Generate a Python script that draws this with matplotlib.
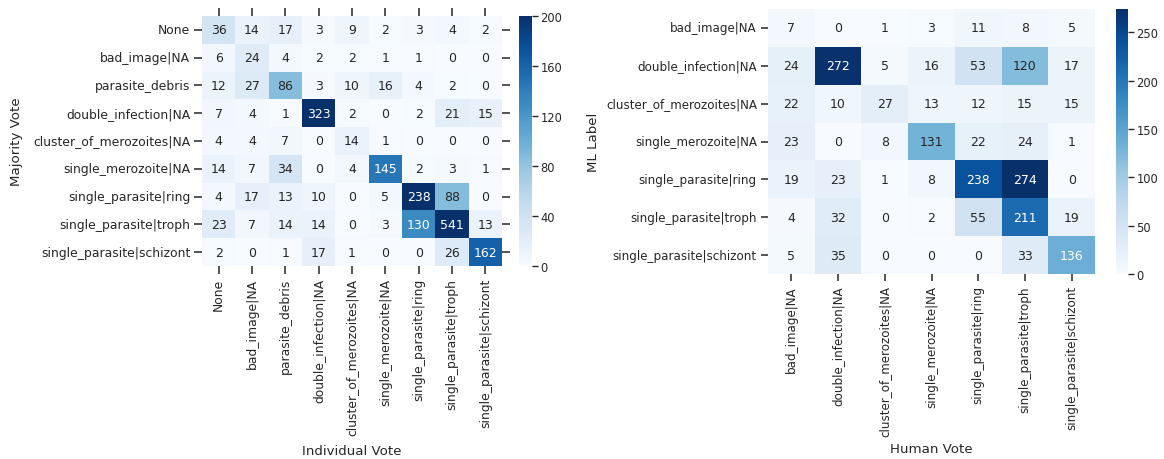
import numpy as np
import matplotlib
matplotlib.use("Agg")
import matplotlib.pyplot as plt
import seaborn as sns

# ---- data ----
left_labels = ["None", "bad_image|NA", "parasite_debris", "double_infection|NA",
               "cluster_of_merozoites|NA", "single_merozoite|NA",
               "single_parasite|ring", "single_parasite|troph",
               "single_parasite|schizont"]
left_values = [
    [36, 14, 17, 3, 9, 2, 3, 4, 2],
    [6, 24, 4, 2, 2, 1, 1, 0, 0],
    [12, 27, 86, 3, 10, 16, 4, 2, 0],
    [7, 4, 1, 323, 2, 0, 2, 21, 15],
    [4, 4, 7, 0, 14, 1, 0, 0, 0],
    [14, 7, 34, 0, 4, 145, 2, 3, 1],
    [4, 17, 13, 10, 0, 5, 238, 88, 0],
    [23, 7, 14, 14, 0, 3, 130, 541, 13],
    [2, 0, 1, 17, 1, 0, 0, 26, 162],
]
left_cbar_ticks = [0, 40, 80, 120, 160, 200]

right_labels = ["bad_image|NA", "double_infection|NA", "cluster_of_merozoites|NA",
                "single_merozoite|NA", "single_parasite|ring",
                "single_parasite|troph", "single_parasite|schizont"]
right_values = [
    [7, 0, 1, 3, 11, 8, 5],
    [24, 272, 5, 16, 53, 120, 17],
    [22, 10, 27, 13, 12, 15, 15],
    [23, 0, 8, 131, 22, 24, 1],
    [19, 23, 1, 8, 238, 274, 0],
    [4, 32, 0, 2, 55, 211, 19],
    [5, 35, 0, 0, 0, 33, 136],
]
right_cbar_ticks = [0, 50, 100, 150, 200, 250]

# ---- figure ----
W, H = 1164, 460
fig = plt.figure(figsize=(W / 100, H / 100), dpi=100)

def px_axes(x0, y0, x1, y1):
    return fig.add_axes([x0 / W, 1 - y1 / H, (x1 - x0) / W, (y1 - y0) / H])

TXT = "#262626"
lab_fs = 9.6
ann_fs = 9.0
cb_fs = 8.3

ax1 = px_axes(202, 17, 502, 267)
cax1 = px_axes(519, 17, 532, 267)
ax2 = px_axes(768, 10, 1095, 275)
cax2 = px_axes(1116, 10, 1128, 275)

sns.heatmap(np.array(left_values), ax=ax1, cbar_ax=cax1, cmap="Blues",
            vmin=0, vmax=200, annot=True, fmt="d",
            annot_kws={"fontsize": ann_fs},
            xticklabels=left_labels, yticklabels=left_labels)
sns.heatmap(np.array(right_values), ax=ax2, cbar_ax=cax2, cmap="Blues",
            vmin=0, annot=True, fmt="d",
            annot_kws={"fontsize": ann_fs},
            xticklabels=right_labels, yticklabels=right_labels)

settings = [
    (ax1, "Individual Vote", "Majority Vote", 8.9, 6.5, 7.0, 6.0, 2.5),
    (ax2, "Human Vote", "ML Label", 8.6, 4.0, 4.0, 5.0, 3.0),
]
for ax, xl, yl, tfs, xpad, ypad, tlen, tpad in settings:
    ax.set_xlabel(xl, fontsize=lab_fs, color=TXT, labelpad=xpad)
    ax.set_ylabel(yl, fontsize=lab_fs, color=TXT, labelpad=ypad)
    ax.tick_params(axis="both", labelsize=tfs, colors=TXT, length=tlen,
                   width=1.1, pad=tpad)
    plt.setp(ax.get_xticklabels(), rotation=90)
    plt.setp(ax.get_yticklabels(), rotation=0)

ax1.tick_params(top=True, right=True, labeltop=False, labelright=False)

for cax, ticks in [(cax1, left_cbar_ticks), (cax2, right_cbar_ticks)]:
    cax.set_yticks(ticks)
    cax.tick_params(labelsize=cb_fs, colors=TXT, length=4, width=1.0, pad=2)

fig.savefig("out.png", dpi=100)
